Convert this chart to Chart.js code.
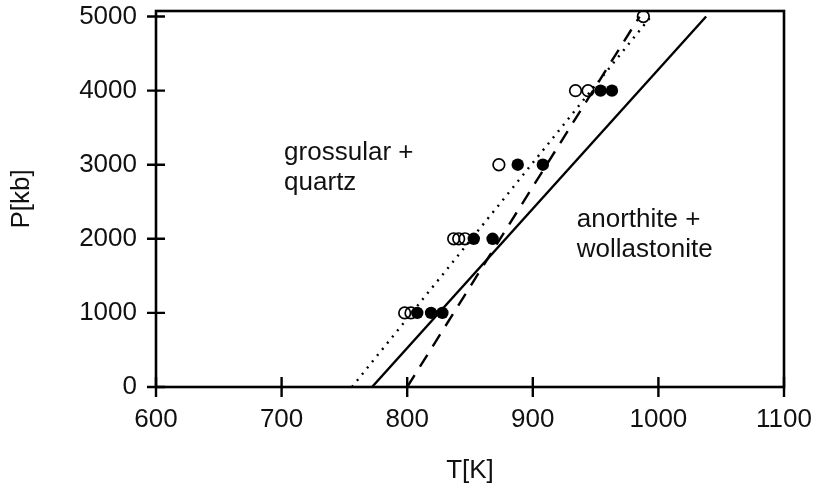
<!DOCTYPE html>
<html>
<head>
<meta charset="utf-8">
<script src="https://cdn.jsdelivr.net/npm/chart.js@4.4.1/dist/chart.umd.min.js"></script>
<style>
  html, body { margin: 0; padding: 0; background: #fff; }
  #wrap { width: 818px; height: 494px; position: relative; }
</style>
</head>
<body>
<div id="wrap"><canvas id="phaseChart"></canvas></div>
<script>
const fontFamily = "'Liberation Sans', Arial, sans-serif";
const fontSize = 26;
const ink = '#000';

// measured runs: open = grossular + quartz side, filled = anorthite + wollastonite side
const openT   = [798, 803, 837, 841, 846, 873, 934, 944, 988];
const openP   = [1000, 1000, 2000, 2000, 2000, 3000, 4000, 4000, 5000];
const filledT = [808, 819, 828, 853, 868, 888, 908, 954, 963];
const filledP = [1000, 1000, 1000, 2000, 2000, 3000, 3000, 4000, 4000];

// boundary lines, two end points each [T at P=0, T at P=5000]
const lineP      = [0, 5000];
const solidT     = [772, 1038];
const dashedT    = [800, 985];
const dottedT    = [756, 994];

const xTicks = [600, 700, 800, 900, 1000, 1100];
const yTicks = [0, 1000, 2000, 3000, 4000, 5000];

// region labels: [T, P] of the left/middle of the first text line
const regionLabels = [
  { lines: ['grossular +', 'quartz'],        T: 702, P: 3160 },
  { lines: ['anorthite +', 'wollastonite'],  T: 935, P: 2255 },
];

const pts = (xs, ys) => xs.map((x, i) => ({ x, y: ys[i] }));

function makeBoundary(xs, dash) {
  return {
    type: 'line',
    data: pts(xs, lineP),
    borderColor: ink,
    borderWidth: 2.4,
    borderDash: dash,
    pointRadius: 0,
    fill: false,
    tension: 0,
  };
}

// frame, crossing tick marks and region text
const framePlugin = {
  id: 'frame',
  afterDraw(chart) {
    const { ctx, chartArea: a, scales: { x, y } } = chart;
    ctx.save();
    ctx.strokeStyle = ink;
    ctx.lineWidth = 2.6;
    ctx.strokeRect(a.left, a.top, a.right - a.left, a.bottom - a.top);
    ctx.lineWidth = 2.4;
    ctx.beginPath();
    xTicks.forEach(v => {
      const px = x.getPixelForValue(v);
      ctx.moveTo(px, a.bottom - 10);
      ctx.lineTo(px, a.bottom + 10);
    });
    yTicks.forEach(v => {
      const py = y.getPixelForValue(v);
      ctx.moveTo(a.left - 9, py);
      ctx.lineTo(a.left + 9, py);
    });
    ctx.stroke();

    ctx.fillStyle = '#111';
    ctx.font = fontSize + 'px ' + fontFamily;
    ctx.textBaseline = 'middle';
    ctx.textAlign = 'left';
    regionLabels.forEach(r => {
      const px = x.getPixelForValue(r.T);
      const py = y.getPixelForValue(r.P);
      r.lines.forEach((t, i) => ctx.fillText(t, px, py + i * 30));
    });
    ctx.restore();
  },
};

const noPad = scale => {
  scale.paddingTop = 0;
  scale.paddingBottom = 0;
  scale.paddingLeft = 0;
  scale.paddingRight = 0;
};

const plain = v => String(v);

new Chart(document.getElementById('phaseChart'), {
  type: 'scatter',
  data: {
    datasets: [
      {
        label: 'filled',
        data: pts(filledT, filledP),
        pointRadius: 6.2,
        pointBackgroundColor: ink,
        pointBorderColor: ink,
        pointBorderWidth: 0,
        showLine: false,
      },
      {
        label: 'open',
        data: pts(openT, openP),
        pointRadius: 5.8,
        pointBackgroundColor: 'rgba(255,255,255,0)',
        pointBorderColor: ink,
        pointBorderWidth: 1.7,
        showLine: false,
      },
      makeBoundary(solidT, []),
      makeBoundary(dashedT, [14, 10]),
      makeBoundary(dottedT, [2, 6]),
    ],
  },
  options: {
    responsive: true,
    maintainAspectRatio: false,
    animation: false,
    events: [],
    layout: { padding: { top: 11, right: 34, left: 0, bottom: 0 } },
    plugins: {
      legend: { display: false },
      tooltip: { enabled: false },
    },
    scales: {
      x: {
        type: 'linear',
        min: 600,
        max: 1100,
        afterBuildTicks: s => { s.ticks = xTicks.map(v => ({ value: v })); },
        afterFit: s => { s.height = 107; noPad(s); },
        ticks: {
          color: '#111',
          font: { family: fontFamily, size: fontSize },
          padding: 17,
          maxRotation: 0,
          autoSkip: false,
          callback: plain,
        },
        grid: { display: false, drawTicks: false },
        border: { display: false },
        title: {
          display: true,
          text: 'T[K]',
          color: '#111',
          font: { family: fontFamily, size: fontSize },
          padding: { top: 0, bottom: 8 },
        },
      },
      y: {
        type: 'linear',
        min: 0,
        max: 5075,
        afterBuildTicks: s => { s.ticks = yTicks.map(v => ({ value: v })); },
        afterFit: s => { s.width = 156; noPad(s); },
        ticks: {
          color: '#111',
          font: { family: fontFamily, size: fontSize },
          padding: 19,
          autoSkip: false,
          callback: plain,
        },
        grid: { display: false, drawTicks: false },
        border: { display: false },
        title: {
          display: true,
          text: 'P[kb]',
          color: '#111',
          font: { family: fontFamily, size: fontSize },
          padding: { top: 6, bottom: 0 },
        },
      },
    },
  },
  plugins: [framePlugin],
});
</script>
</body>
</html>
